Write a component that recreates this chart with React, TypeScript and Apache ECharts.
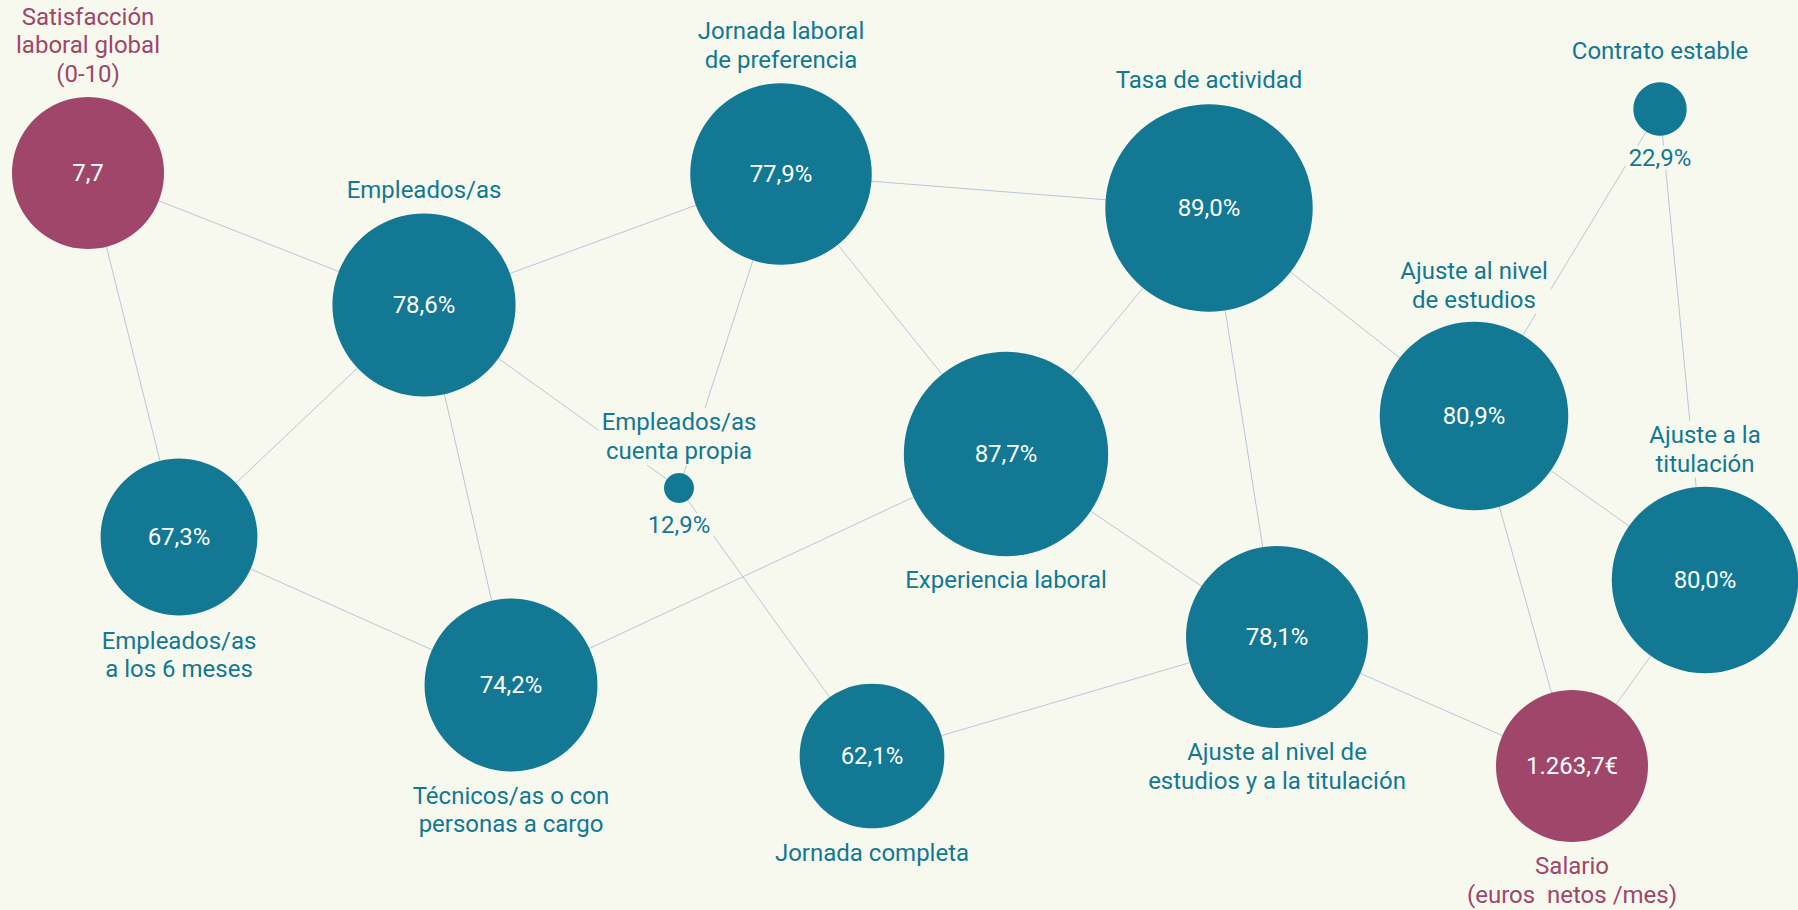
import React, { useEffect, useRef } from "react";
import * as echarts from "echarts";

// ---- data ----
const nodeNames = [
  "Satisfacción\nlaboral global\n(0-10)",
  "Empleados/as",
  "Jornada laboral\nde preferencia",
  "Tasa de actividad",
  "Contrato estable",
  "Empleados/as\na los 6 meses",
  "Empleados/as\ncuenta propia",
  "Experiencia laboral",
  "Técnicos/as o con\npersonas a cargo",
  "Jornada completa",
  "Ajuste al nivel de\nestudios y a la titulación",
  "Ajuste al nivel\nde estudios",
  "Ajuste a la\ntitulación",
  "Salario\n(euros  netos /mes)",
];
const nodeValues = [7.7, 78.6, 77.9, 89.0, 22.9, 67.3, 12.9, 87.7, 74.2, 62.1, 78.1, 80.9, 80.0, 1263.7];
const nodeUnits = ["", "%", "%", "%", "%", "%", "%", "%", "%", "%", "%", "%", "%", "€"];
// "pct" nodes are sized by their value, "ind" nodes (other indicators) share one size
const nodeKinds = ["ind", "pct", "pct", "pct", "pct", "pct", "pct", "pct", "pct", "pct", "pct", "pct", "pct", "ind"];
const links: [number, number][] = [
  [0, 1], [0, 5], [1, 2], [1, 5], [1, 8], [1, 6], [2, 6], [2, 3], [2, 7],
  [3, 7], [3, 11], [3, 10], [6, 9], [5, 8], [8, 7], [7, 10], [9, 10],
  [10, 13], [4, 11], [4, 12], [11, 12], [11, 13], [12, 13],
];

// ---- layout ----
const nodeX = [88, 424, 781, 1209, 1660, 179, 679, 1006, 511, 872, 1277, 1474, 1705, 1572];
const nodeY = [173, 305, 174, 208, 109, 537, 488, 454, 685, 756, 637, 416, 580, 766];
const namePos = ["top", "top", "top", "top", "top", "bottom", "top", "bottom", "bottom", "bottom", "bottom", "top", "top", "bottom"];
const nameGap = [9, 9, 9, 10, 17, 11, 8, 10, 10, 10, 10, 8, 9, 10];
const nameDx = [2, -3, 0, 0, 0, 0, 7, 0, 0, 0, 0, 0, 0, 0];

const BG = "#F7F9EE";
const TEAL = "#127893";
const PINK = "#A0466B";
const EDGE = "#B6C6DA";
const FONT = "Roboto";

function fmt(v: number, unit: string) {
  const [i, d] = v.toFixed(1).split(".");
  return i.replace(/\B(?=(\d{3})+(?!\d))/g, ".") + "," + d + unit;
}

function sizeOf(i: number) {
  return nodeKinds[i] === "pct" ? nodeValues[i] * 2.33 : 152;
}

export default function App() {
  const ref = useRef<HTMLDivElement>(null);
  useEffect(() => {
    document.body.style.margin = "0";
    document.body.style.background = BG;
    const chart = echarts.init(ref.current!, null, { renderer: "svg" });

    const graphData = nodeNames.map((name, i) => {
      const size = sizeOf(i);
      const small = size < 80;
      const color = nodeKinds[i] === "pct" ? TEAL : PINK;
      return {
        name: "n" + i,
        value: [nodeX[i], nodeY[i]],
        symbolSize: size,
        itemStyle: { color, opacity: 1 },
        label: {
          show: true,
          formatter: fmt(nodeValues[i], nodeUnits[i]),
          position: small ? "bottom" : "inside",
          distance: small ? 10 : 0,
          color: small ? TEAL : "#FFFFFF",
          fontSize: 24,
          fontFamily: FONT,
          backgroundColor: small ? BG : "transparent",
          padding: small ? [0, 3] : 0,
        },
      };
    });

    const nameData = nodeNames.map((name, i) => ({
      value: [nodeX[i], nodeY[i]],
      symbolSize: sizeOf(i),
      label: {
        show: true,
        formatter: name,
        position: namePos[i],
        distance: nameGap[i],
        offset: [nameDx[i], 0],
        color: nodeKinds[i] === "pct" ? TEAL : PINK,
      },
    }));

    chart.setOption({
      animation: false,
      backgroundColor: BG,
      grid: { left: 0, right: 0, top: 0, bottom: 0 },
      xAxis: { type: "value", min: 0, max: 1798, show: false },
      yAxis: { type: "value", min: 0, max: 910, inverse: true, show: false },
      series: [
        {
          type: "graph",
          coordinateSystem: "cartesian2d",
          layout: "none",
          silent: true,
          z: 2,
          symbol: "circle",
          data: graphData,
          links: links.map(([s, t]) => ({ source: s, target: t })),
          lineStyle: { color: EDGE, width: 1, opacity: 1, curveness: 0 },
          emphasis: { disabled: true },
        },
        {
          type: "scatter",
          silent: true,
          z: 3,
          symbol: "circle",
          itemStyle: { color: "rgba(0,0,0,0)", opacity: 1 },
          data: nameData,
          label: {
            show: true,
            fontSize: 24,
            lineHeight: 28.5,
            fontFamily: FONT,
            align: "center",
            backgroundColor: BG,
            padding: [0, 3],
          },
          labelLayout: { hideOverlap: false },
          emphasis: { disabled: true },
        },
      ],
    });
    return () => chart.dispose();
  }, []);
  return <div ref={ref} style={{ width: 1798, height: 910 }} />;
}
